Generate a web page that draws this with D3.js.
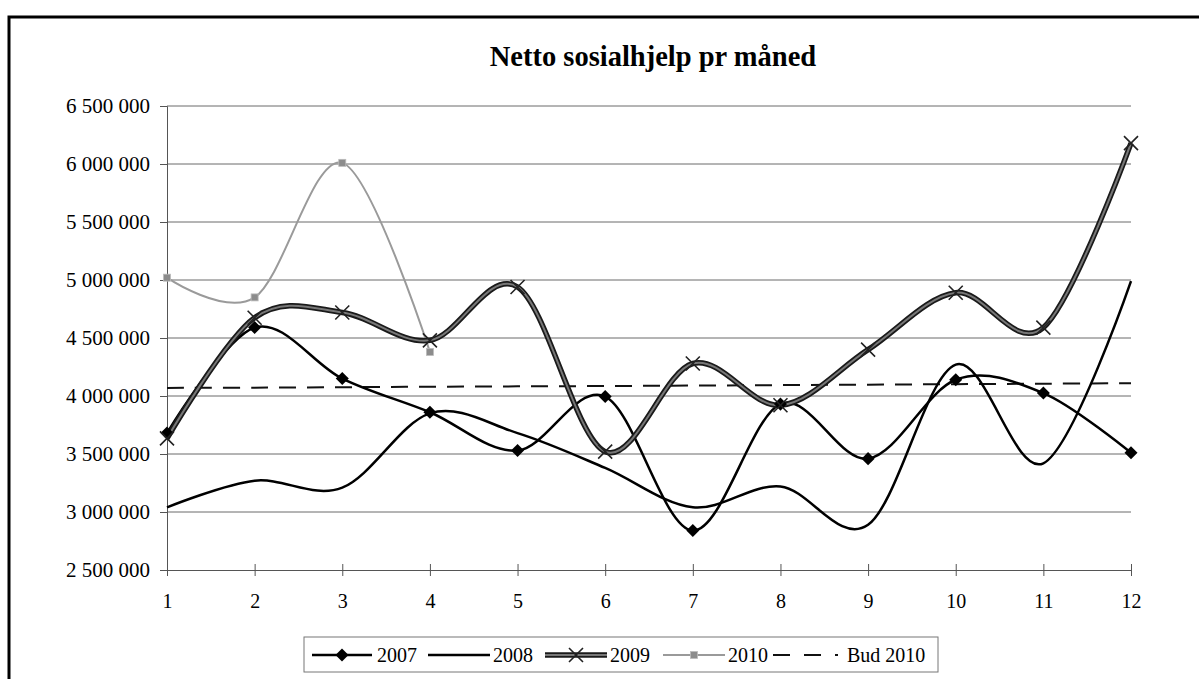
<!DOCTYPE html>
<html>
<head>
<meta charset="utf-8">
<script src="https://cdn.jsdelivr.net/npm/d3@7"></script>
<style>
  html, body { margin: 0; padding: 0; background: #fff; }
  svg { display: block; }
  text { font-family: "Liberation Serif", "Times New Roman", serif; fill: #000; }
</style>
</head>
<body>
<svg id="chart" width="1199" height="679"></svg>
<script>
// ---- Data ----
const months = [1, 2, 3, 4, 5, 6, 7, 8, 9, 10, 11, 12];
const s2007 = [3680000, 4590000, 4150000, 3860000, 3530000, 3995000, 2840000, 3930000, 3460000, 4140000, 4025000, 3510000];
const s2008 = [3040000, 3270000, 3210000, 3850000, 3680000, 3380000, 3040000, 3220000, 2890000, 4270000, 3420000, 4990000];
const s2009 = [3635000, 4675000, 4720000, 4480000, 4940000, 3520000, 4280000, 3920000, 4400000, 4890000, 4590000, 6180000];
const s2010 = [5020000, 4850000, 6010000, 4380000];
const bud2010 = [4070000, 4072000, 4076000, 4080000, 4083000, 4086000, 4090000, 4094000, 4098000, 4102000, 4106000, 4110000];
const yTicks = [2500000, 3000000, 3500000, 4000000, 4500000, 5000000, 5500000, 6000000, 6500000];
const seriesNames = ["2007", "2008", "2009", "2010", "Bud 2010"];
const title = "Netto sosialhjelp pr måned";

// ---- Layout ----
const svg = d3.select("#chart");
const L = 167, R = 1131, T = 106, B = 570;

const x = d3.scaleLinear().domain([1, 12]).range([L, R]);
const y = d3.scaleLinear().domain([2500000, 6500000]).range([B, T]);

// Outer frame (cropped at right and bottom)
svg.append("rect").attr("x", 9).attr("y", 17).attr("width", 1250).attr("height", 750)
  .attr("fill", "none").attr("stroke", "#000").attr("stroke-width", 3);

// Title
svg.append("text").attr("x", 653).attr("y", 66).attr("text-anchor", "middle")
  .style("font-size", "28.5px").style("font-weight", "bold").text(title);

// Gridlines
svg.append("g").selectAll("line").data(yTicks.slice(1)).join("line")
  .attr("x1", L).attr("x2", R).attr("y1", d => y(d)).attr("y2", d => y(d))
  .attr("stroke", "#6a6a6a").attr("stroke-width", 1);

const fmt = v => d3.format(",")(v).replace(/,/g, " ");

// Y axis
const yAxis = svg.append("g").attr("transform", `translate(${L},0)`)
  .call(d3.axisLeft(y).tickValues(yTicks).tickFormat(fmt).tickSize(7).tickPadding(10));
yAxis.select(".domain").attr("stroke", "#555");
yAxis.selectAll(".tick line").attr("stroke", "#555");
yAxis.selectAll("text").style("font-size", "21px").style("font-family", "'Liberation Serif', serif").attr("fill", "#000");

// X axis
const xAxis = svg.append("g").attr("transform", `translate(0,${B})`)
  .call(d3.axisBottom(x).tickValues(months).tickFormat(d3.format("d")).tickSizeInner(6).tickSizeOuter(0).tickPadding(18));
xAxis.select(".domain").attr("stroke", "#555");
xAxis.selectAll(".tick line").attr("y1", -6).attr("y2", 6).attr("stroke", "#555");
xAxis.selectAll("text").style("font-size", "20px").style("font-family", "'Liberation Serif', serif").attr("fill", "#000");

const curve = d3.curveCardinal.tension(0);
const line = d3.line().x((d, i) => x(months[i])).y(d => y(d)).curve(curve);

const g = svg.append("g");

// Bud 2010 dashed
g.append("path").attr("d", line(bud2010)).attr("fill", "none")
  .attr("stroke", "#111").attr("stroke-width", 2).attr("stroke-dasharray", "17,11");

// 2010
g.append("path").attr("d", line(s2010)).attr("fill", "none")
  .attr("stroke", "#9a9a9a").attr("stroke-width", 2);

// 2008
g.append("path").attr("d", line(s2008)).attr("fill", "none")
  .attr("stroke", "#000").attr("stroke-width", 2.5);

// 2007
g.append("path").attr("d", line(s2007)).attr("fill", "none")
  .attr("stroke", "#000").attr("stroke-width", 2.5);

// 2009 (thick textured)
g.append("path").attr("d", line(s2009)).attr("fill", "none")
  .attr("stroke", "#1a1a1a").attr("stroke-width", 5.5);
g.append("path").attr("d", line(s2009)).attr("fill", "none")
  .attr("stroke", "#777").attr("stroke-width", 2);

// Markers
const diamondPath = d3.symbol().type(d3.symbolSquare).size(85)();
g.append("g").selectAll("path").data(s2007).join("path")
  .attr("d", diamondPath)
  .attr("transform", (d, i) => `translate(${x(months[i])},${y(d)}) rotate(45)`)
  .attr("fill", "#000");

g.append("g").selectAll("path").data(s2009).join("path")
  .attr("transform", (d, i) => `translate(${x(months[i])},${y(d)})`)
  .attr("d", "M-7,-7L7,7M-7,7L7,-7")
  .attr("stroke", "#222").attr("stroke-width", 1.6).attr("fill", "none");

g.append("g").selectAll("rect").data(s2010).join("rect")
  .attr("x", (d, i) => x(months[i]) - 3.5).attr("y", d => y(d) - 3.5)
  .attr("width", 7).attr("height", 7).attr("fill", "#8c8c8c").attr("stroke", "#bbb").attr("stroke-width", 0.8);

// Legend
const lg = svg.append("g");
lg.append("rect").attr("x", 304).attr("y", 637).attr("width", 634).attr("height", 35)
  .attr("fill", "#fff").attr("stroke", "#777").attr("stroke-width", 1);
const ly = 655;
const items = [
  { x0: 312, x1: 372, tx: 377 },
  { x0: 428, x1: 490, tx: 493 },
  { x0: 545, x1: 607, tx: 610 },
  { x0: 663, x1: 725, tx: 728 },
  { x0: 773, x1: 838, tx: 847 }
];
// 2007
lg.append("line").attr("x1", items[0].x0).attr("x2", items[0].x1).attr("y1", ly).attr("y2", ly).attr("stroke", "#000").attr("stroke-width", 2.5);
lg.append("path").attr("d", diamondPath)
  .attr("transform", `translate(${(items[0].x0 + items[0].x1) / 2},${ly}) rotate(45)`).attr("fill", "#000");
// 2008
lg.append("line").attr("x1", items[1].x0).attr("x2", items[1].x1).attr("y1", ly).attr("y2", ly).attr("stroke", "#000").attr("stroke-width", 2.5);
// 2009
lg.append("line").attr("x1", items[2].x0).attr("x2", items[2].x1).attr("y1", ly).attr("y2", ly).attr("stroke", "#1a1a1a").attr("stroke-width", 5.5);
lg.append("line").attr("x1", items[2].x0).attr("x2", items[2].x1).attr("y1", ly).attr("y2", ly).attr("stroke", "#777").attr("stroke-width", 2);
lg.append("path").attr("d", "M-7,-7L7,7M-7,7L7,-7")
  .attr("transform", `translate(${(items[2].x0 + items[2].x1) / 2},${ly})`).attr("stroke", "#222").attr("stroke-width", 1.6);
// 2010
lg.append("line").attr("x1", items[3].x0).attr("x2", items[3].x1).attr("y1", ly).attr("y2", ly).attr("stroke", "#9a9a9a").attr("stroke-width", 2);
lg.append("rect").attr("x", (items[3].x0 + items[3].x1) / 2 - 3.5).attr("y", ly - 3.5).attr("width", 7).attr("height", 7)
  .attr("fill", "#8c8c8c").attr("stroke", "#bbb").attr("stroke-width", 0.8);
// Bud 2010
lg.append("line").attr("x1", items[4].x0).attr("x2", items[4].x1).attr("y1", ly).attr("y2", ly).attr("stroke", "#111").attr("stroke-width", 2).attr("stroke-dasharray", "17,14");

lg.selectAll("text.lt").data(seriesNames).join("text").attr("class", "lt")
  .attr("x", (d, i) => items[i].tx).attr("y", ly + 7).style("font-size", "20px").text(d => d);
</script>
</body>
</html>
